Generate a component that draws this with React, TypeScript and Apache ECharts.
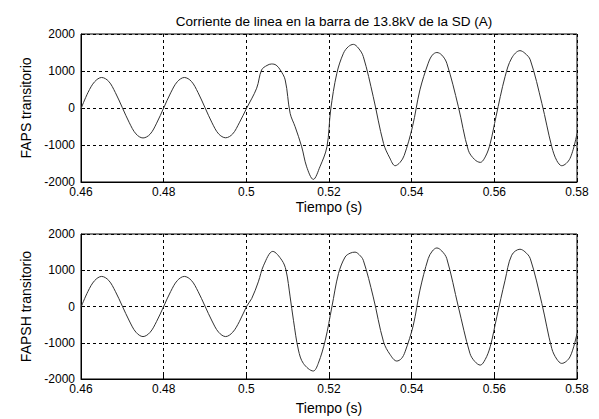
import React, { useEffect, useRef } from "react";
import * as echarts from "echarts";

const titleText = "Corriente de linea en la barra de 13.8kV de la SD (A)";
const xLabel = "Tiempo (s)";
const yLabelTop = "FAPS transitorio";
const yLabelBottom = "FAPSH transitorio";

const xTicks = [0.46, 0.48, 0.5, 0.52, 0.54, 0.56, 0.58];
const yTicks = [-2000, -1000, 0, 1000, 2000];

const tTop = [
  0.46, 0.4617, 0.4633, 0.465, 0.4667, 0.4683, 0.47, 0.4717, 0.4733, 0.475,
  0.4767, 0.4783, 0.48, 0.4817, 0.4833, 0.485, 0.4867, 0.4883, 0.49, 0.4917,
  0.4933, 0.495, 0.4967, 0.4983, 0.5001, 0.5025, 0.5037, 0.505, 0.5061, 0.5072,
  0.5082, 0.5094, 0.5106, 0.5118, 0.5134, 0.5146, 0.5162, 0.5178, 0.5195, 0.5204,
  0.5219, 0.5235, 0.5247, 0.5259, 0.5271, 0.5283, 0.5307, 0.5332, 0.5347, 0.536,
  0.5372, 0.5382, 0.5402, 0.542, 0.544, 0.545, 0.5461, 0.5473, 0.5485, 0.5513,
  0.5537, 0.5552, 0.5566, 0.5579, 0.559, 0.5604, 0.5626, 0.5642, 0.5662, 0.5674,
  0.5687, 0.5715, 0.5739, 0.5751, 0.5763, 0.5783, 0.58,
];
const vTop = [
  -20, 420, 710, 825, 720, 420, 10, -400, -700, -810,
  -710, -410, 0, 410, 710, 825, 720, 420, 10, -400,
  -700, -805, -700, -400, 0, 535, 1030, 1150, 1190, 1160,
  1030, 760, -145, -505, -1050, -1590, -1930, -1590, -1050, -54,
  940, 1480, 1660, 1720, 1620, 1390, 307, -960, -1350, -1560,
  -1470, -1280, -505, 490, 1210, 1430, 1500, 1430, 1210, 35,
  -1140, -1390, -1470, -1300, -960, -235, 850, 1350, 1550, 1480,
  1300, 125, -1050, -1420, -1560, -1365, -690,
];

const tBottom = [
  0.46, 0.4617, 0.4633, 0.465, 0.4667, 0.4683, 0.47, 0.4717, 0.4733, 0.475,
  0.4767, 0.4783, 0.48, 0.4817, 0.4833, 0.485, 0.4867, 0.4883, 0.49, 0.4917,
  0.4933, 0.495, 0.4967, 0.4983, 0.5001, 0.5013, 0.5029, 0.5042, 0.5064, 0.5086,
  0.5096, 0.5106, 0.5114, 0.5126, 0.5138, 0.5162, 0.5174, 0.5191, 0.5207, 0.5223,
  0.5239, 0.5251, 0.5263, 0.5273, 0.5283, 0.5307, 0.5332, 0.5348, 0.5364, 0.5375,
  0.5384, 0.5404, 0.542, 0.544, 0.545, 0.5461, 0.5473, 0.5485, 0.5513, 0.5541,
  0.5553, 0.5566, 0.5578, 0.559, 0.5606, 0.5626, 0.5642, 0.5662, 0.5674, 0.5687,
  0.5715, 0.5739, 0.5751, 0.5763, 0.5783, 0.58,
];
const vBottom = [
  -20, 420, 715, 830, 720, 420, 10, -400, -710, -830,
  -715, -410, 0, 415, 715, 830, 720, 420, 10, -400,
  -710, -830, -710, -420, 10, 220, 680, 1140, 1520, 1275,
  1000, 265, -380, -1200, -1570, -1780, -1570, -930, -10, 910,
  1365, 1470, 1500, 1430, 1275, 265, -975, -1330, -1505, -1440,
  -1250, -515, 450, 1320, 1530, 1615, 1530, 1320, -10, -1295,
  -1520, -1617, -1460, -1110, -285, 725, 1415, 1580, 1510, 1320,
  80, -1160, -1450, -1570, -1390, -745,
];

const FONT = "Liberation Sans, Arial, Helvetica, sans-serif";

function pairs(t: number[], v: number[]) {
  return t.map((x, i) => [x, v[i]]);
}

export default function App() {
  const ref = useRef<HTMLDivElement>(null);
  useEffect(() => {
    if (!ref.current) return;
    const chart = echarts.init(ref.current, null, { renderer: "svg" });
    const mkX = (gridIndex: number, nameGap: number) => ({
      type: "value",
      gridIndex,
      min: xTicks[0],
      max: xTicks[xTicks.length - 1],
      interval: 0.02,
      name: xLabel,
      nameLocation: "middle",
      nameGap,
      nameTextStyle: { color: "#000", fontSize: 14, fontFamily: FONT },
      axisLine: { show: true, onZero: false, lineStyle: { color: "#000", width: 1 } },
      axisTick: { show: true, inside: true, length: 4, lineStyle: { color: "#000" } },
      axisLabel: {
        color: "#000",
        fontSize: 12,
        fontFamily: FONT,
        margin: 4,
        formatter: (v: number) => String(+v.toFixed(2)),
      },
      splitLine: { show: true, lineStyle: { color: "#000", type: [3, 3], width: 1 } },
    });
    const mkY = (gridIndex: number, name: string) => ({
      type: "value",
      gridIndex,
      min: yTicks[0],
      max: yTicks[yTicks.length - 1],
      interval: 1000,
      name,
      nameLocation: "middle",
      nameGap: 46,
      nameRotate: 90,
      nameTextStyle: { color: "#000", fontSize: 14, fontFamily: FONT },
      axisLine: { show: true, onZero: false, lineStyle: { color: "#000", width: 1 } },
      axisTick: { show: true, inside: true, length: 4, lineStyle: { color: "#000" } },
      axisLabel: {
        color: "#000",
        fontSize: 12,
        fontFamily: FONT,
        margin: 6,
        formatter: (v: number) => String(Math.round(v)),
      },
      splitLine: { show: true, lineStyle: { color: "#000", type: [3, 3], width: 1 } },
    });
    chart.setOption({
      animation: false,
      backgroundColor: "#fff",
      title: {
        text: titleText,
        left: 329,
        top: 9,
        textAlign: "center",
        textStyle: { color: "#000", fontSize: 13.5, fontWeight: "normal", fontFamily: FONT },
      },
      grid: [
        { left: 81, top: 34, width: 496, height: 148, show: true, borderColor: "#000", borderWidth: 1, backgroundColor: "#fff" },
        { left: 81, top: 234, width: 496, height: 145, show: true, borderColor: "#000", borderWidth: 1, backgroundColor: "#fff" },
      ],
      xAxis: [mkX(0, 18), mkX(1, 22)],
      yAxis: [mkY(0, yLabelTop), mkY(1, yLabelBottom)],
      series: [
        {
          type: "line",
          xAxisIndex: 0,
          yAxisIndex: 0,
          data: pairs(tTop, vTop),
          showSymbol: false,
          smooth: 0.35,
          lineStyle: { color: "#333", width: 1 },
        },
        {
          type: "line",
          xAxisIndex: 1,
          yAxisIndex: 1,
          data: pairs(tBottom, vBottom),
          showSymbol: false,
          smooth: 0.35,
          lineStyle: { color: "#333", width: 1 },
        },
      ],
    });
    return () => chart.dispose();
  }, []);
  return (
    <div
      ref={ref}
      style={{ position: "fixed", left: 0, top: 0, width: 599, height: 419, background: "#fff" }}
    />
  );
}
